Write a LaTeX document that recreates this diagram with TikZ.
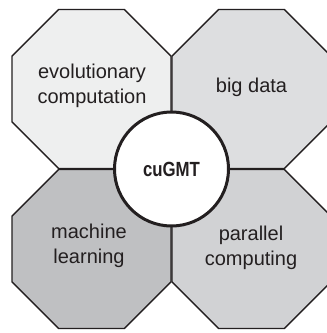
\documentclass[tikz,border=0pt]{standalone}
\usepackage{fontspec}
\setmainfont{Liberation Sans}
\definecolor{edge}{HTML}{231F20}
\definecolor{fillA}{HTML}{EEEFEF}
\definecolor{fillB}{HTML}{DDDEE0}
\definecolor{fillC}{HTML}{BFC0C2}
\definecolor{fillD}{HTML}{D1D2D4}
\tikzset{
  octo/.style={draw=edge, line width=1.3pt, line join=miter},
  topic/.style={align=center, text=edge, font=\fontsize{20}{25}\selectfont, inner sep=0pt},
  hub/.style={circle, draw=edge, line width=3pt, fill=white, minimum size=114pt, inner sep=0pt,
              text=edge, font=\bfseries\fontsize{20.5}{24}\selectfont}
}
% regular octagon with flat sides: centre (#1,#2), apothem a, half side h
\newcommand{\octagon}[3]{%
  \pgfmathsetmacro{\oa}{79.5}\pgfmathsetmacro{\oh}{32.9}%
  \fill[#3] (#1-\oh,#2-\oa) -- (#1+\oh,#2-\oa) -- (#1+\oa,#2-\oh) -- (#1+\oa,#2+\oh)
     -- (#1+\oh,#2+\oa) -- (#1-\oh,#2+\oa) -- (#1-\oa,#2+\oh) -- (#1-\oa,#2-\oh) -- cycle;
  \draw[octo] (#1-\oh,#2-\oa) -- (#1+\oh,#2-\oa) -- (#1+\oa,#2-\oh) -- (#1+\oa,#2+\oh)
     -- (#1+\oh,#2+\oa) -- (#1-\oh,#2+\oa) -- (#1-\oa,#2+\oh) -- (#1-\oa,#2-\oh) -- cycle;}
\begin{document}
\begin{tikzpicture}[x=1pt,y=-1pt]
  \useasboundingbox (0,0) rectangle (327,333);
  \clip (0,0) rectangle (327,333);
  \fill[white] (0,0) rectangle (327,333);
  \octagon{91.5}{89}{fillA}
  \octagon{251.5}{89}{fillB}
  \octagon{91.5}{249}{fillC}
  \octagon{251.5}{249}{fillD}
  \node[topic] (evo) at (92,86) {evolutionary\\computation};
  \node[topic] (big) at (251.5,87) {big data};
  \node[topic] (ml) at (89,246) {machine\\learning};
  \node[topic] (par) at (251,248) {parallel\\computing};
  \node[hub] (core) at (171.5,169) {\scalebox{0.82}[1]{cuGMT}};
\end{tikzpicture}
\end{document}
